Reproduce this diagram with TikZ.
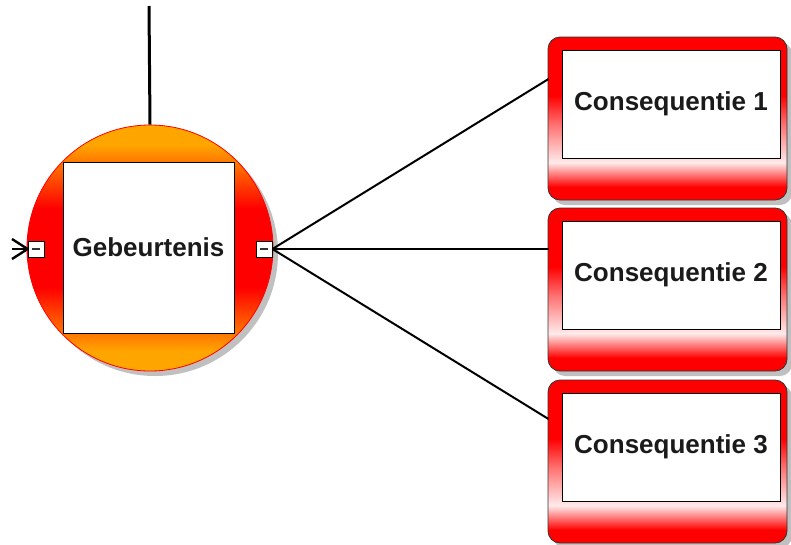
\documentclass[tikz,border=0pt]{standalone}
\usepackage{fontspec}
\setmainfont{Liberation Sans}
\definecolor{orng}{RGB}{255,165,0}
\definecolor{shd}{RGB}{192,192,192}
\definecolor{txt}{RGB}{26,26,26}
\pgfdeclareverticalshading{consshade}{100bp}{color(0bp)=(red); color(29bp)=(red); color(36.5bp)=(red!8); color(48bp)=(red!55); color(57bp)=(red); color(100bp)=(red)}
\pgfdeclareverticalshading{circshade}{100bp}{color(0bp)=(orng); color(29bp)=(orng); color(42bp)=(red); color(58bp)=(red); color(71bp)=(orng); color(100bp)=(orng)}
\tikzset{
  lbl/.style={font=\bfseries\fontsize{26}{31}\selectfont, text=txt},
  outerbox/.style={rectangle, rounded corners=12pt, minimum width=239pt, minimum height=163pt, draw=black!80, line width=0.8pt, shading=consshade},
  outershadow/.style={rectangle, rounded corners=12pt, minimum width=239pt, minimum height=163pt, fill=shd},
  innerbox/.style={rectangle, minimum width=218pt, minimum height=108pt, draw=black, line width=0.8pt, fill=white, lbl},
  port/.style={rectangle, minimum width=16pt, minimum height=16pt, inner sep=0pt, draw=black, line width=0.8pt, fill=white},
  conn/.style={line width=2pt, black},
}
\begin{document}
\begin{tikzpicture}[x=1pt,y=-1pt]
\useasboundingbox[fill=white] (0,0) rectangle (791,544);
% event circle
\node[circle, minimum size=246pt, fill=shd] (circsh) at (155,253) {};
\node[circle, minimum size=246pt, inner sep=0pt, draw=red, line width=0.8pt, shading=circshade] (circ) at (150,248) {};
\node[rectangle, minimum width=171pt, minimum height=171pt, draw=black, line width=0.8pt, fill=white, lbl] (ev) at (148.5,247.5) {Gebeurtenis};
\node[port] (portL) at (36,249) {};
\node[port] (portR) at (264,249) {};
\draw[line width=1.2pt, black!80] ([xshift=-4pt]portL.center) -- ([xshift=4pt]portL.center);
\draw[line width=1.2pt, black!80] ([xshift=-4pt]portR.center) -- ([xshift=4pt]portR.center);
% consequence boxes
\foreach \i/\y in {1/118.5, 2/289.5, 3/461.5}{
  \node[outershadow] (csh\i) at (672.5,\y+5) {};
  \node[outerbox] (c\i) at (667.5,\y) {};
  \node[innerbox] (ci\i) at (671,\y-14.5) {Consequentie \i};
}
% connector ends
\coordinate (top) at (149,6);
\coordinate (e1) at (548.5,79);
\coordinate (e2) at (548.5,249);
\coordinate (e3) at (548.5,419);
\coordinate (a1) at (12,239);
\coordinate (a2) at (12,249);
\coordinate (a3) at (12,259);
\draw[line width=3pt] (top) -- (circ.north);
\draw[conn] (portR.east) -- (e1);
\draw[conn] (portR.east) -- (e2);
\draw[conn] (portR.east) -- (e3);
\draw[line width=2.4pt] (a1) -- (portL.west);
\draw[line width=2.4pt] (a2) -- (portL.west);
\draw[line width=2.4pt] (a3) -- (portL.west);
\end{tikzpicture}
\end{document}
